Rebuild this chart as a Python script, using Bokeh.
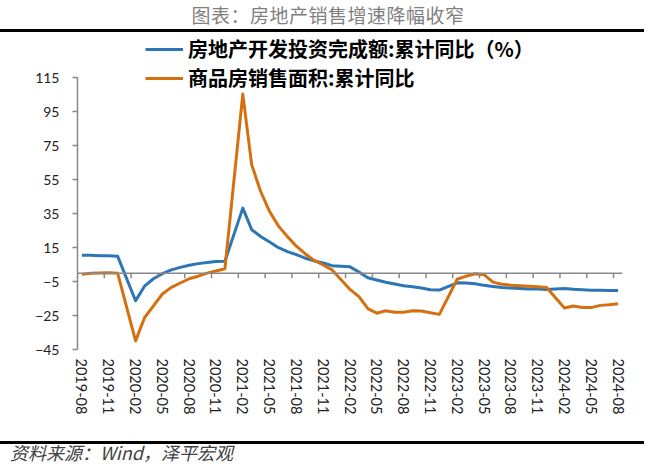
from bokeh.plotting import figure
from bokeh.models import (FixedTicker, Legend, LegendItem, Range1d, Span, Div)
from bokeh.layouts import column
from bokeh.embed import file_html
from bokeh.resources import INLINE

# ---------------- data ----------------
months = [
    "2019-08", "2019-09", "2019-10", "2019-11", "2019-12",
    "2020-02", "2020-03", "2020-04", "2020-05", "2020-06", "2020-07", "2020-08",
    "2020-09", "2020-10", "2020-11", "2020-12",
    "2021-02", "2021-03", "2021-04", "2021-05", "2021-06", "2021-07", "2021-08",
    "2021-09", "2021-10", "2021-11", "2021-12",
    "2022-02", "2022-03", "2022-04", "2022-05", "2022-06", "2022-07", "2022-08",
    "2022-09", "2022-10", "2022-11", "2022-12",
    "2023-02", "2023-03", "2023-04", "2023-05", "2023-06", "2023-07", "2023-08",
    "2023-09", "2023-10", "2023-11", "2023-12",
    "2024-02", "2024-03", "2024-04", "2024-05", "2024-06", "2024-07", "2024-08",
]
invest = [
    10.5, 10.5, 10.3, 10.2, 9.9,
    -16.3, -7.7, -3.3, -0.3, 1.9, 3.4, 4.6, 5.6, 6.3, 6.8, 7.0,
    38.3, 25.6, 21.6, 18.3, 15.0, 12.7, 10.9, 8.8, 7.2, 6.0, 4.4,
    3.7, 0.7, -2.7, -4.0, -5.4, -6.4, -7.4, -8.0, -8.8, -9.8, -10.0,
    -5.7, -5.8, -6.2, -7.2, -7.9, -8.5, -8.8, -9.1, -9.3, -9.4, -9.6,
    -9.0, -9.5, -9.8, -10.1, -10.1, -10.2, -10.2,
]
sales = [
    -0.6, -0.1, 0.1, 0.2, -0.1,
    -39.9, -26.3, -19.3, -12.3, -8.4, -5.8, -3.3, -1.8, 0.0, 1.3, 2.6,
    105.5, 63.8, 48.1, 36.3, 27.7, 21.5, 15.9, 11.3, 7.5, 4.8, 1.9,
    -9.6, -13.8, -20.9, -23.6, -22.2, -23.1, -23.0, -22.2, -22.3, -23.3, -24.3,
    -3.6, -1.8, -0.4, -0.9, -5.3, -6.5, -7.1, -7.5, -7.8, -8.0, -8.5,
    -20.5, -19.4, -20.2, -20.3, -19.0, -18.6, -18.0,
]
tick_labels = [
    "2019-08", "2019-11", "2020-02", "2020-05", "2020-08", "2020-11",
    "2021-02", "2021-05", "2021-08", "2021-11", "2022-02", "2022-05",
    "2022-08", "2022-11", "2023-02", "2023-05", "2023-08", "2023-11",
    "2024-02", "2024-05", "2024-08",
]
y_ticks = [-45, -25, -5, 15, 35, 55, 75, 95, 115]
series_names = ["房地产开发投资完成额:累计同比（%）", "商品房销售面积:累计同比"]
title_text = "图表：房地产销售增速降幅收窄"
source_text = "资料来源：Wind，泽平宏观"

# ---------------- helpers ----------------
def month_index(s):
    y, m = s.split("-")
    return (int(y) - 2019) * 12 + (int(m) - 8)

xs = [month_index(s) for s in months]
label_pos = [month_index(s) for s in tick_labels]
boundary_ticks = [v - 0.5 for v in label_pos]
n_months = month_index(months[-1]) + 1

BLUE = "#2E75B6"
ORANGE = "#D4700F"
AXIS = "#898989"
FONT = "Lato"
CJK = "Noto Sans CJK SC"

W = 644
TOP_H, FIG_H, BOT_H = 32, 398, 30
ML, FW = 77, 545
FRAME_TOP, FRAME_BOT = 1, 317          # inside figure canvas
PX_PER_UNIT = 1.697
y_lo = y_ticks[0]
y_hi = y_lo + (FRAME_BOT - FRAME_TOP) / PX_PER_UNIT

p = figure(width=W, height=FIG_H, output_backend="svg", toolbar_location=None,
           x_range=Range1d(-0.5, n_months - 0.5), y_range=Range1d(y_lo, y_hi),
           min_border_left=ML, min_border_top=FRAME_TOP,
           min_border_right=W - ML - FW, min_border_bottom=FIG_H - FRAME_BOT)
p.outline_line_color = None
p.grid.visible = False

r1 = p.line(xs, invest, line_color=BLUE, line_width=3, line_join="round")
r2 = p.line(xs, sales, line_color=ORANGE, line_width=3, line_join="round")

# horizontal axis line at zero with tick marks at category boundaries
p.add_layout(Span(location=0, dimension="width", line_color=AXIS, line_width=1.5))
tick_len = 5 / PX_PER_UNIT
p.segment(x0=boundary_ticks, y0=[0] * len(boundary_ticks),
          x1=boundary_ticks, y1=[-tick_len] * len(boundary_ticks),
          line_color=AXIS, line_width=1.5)

# category labels at bottom
xa = p.xaxis[0]
xa.ticker = FixedTicker(ticks=label_pos)
xa.major_label_overrides = {v: t for v, t in zip(label_pos, tick_labels)}
xa.axis_line_color = None
xa.major_tick_line_color = None
xa.minor_tick_line_color = None
xa.major_tick_out = 0
xa.major_tick_in = 0
xa.major_label_orientation = "vertical"
xa.major_label_standoff = 9
xa.major_label_text_font = FONT
xa.major_label_text_font_size = "14.5px"
xa.major_label_text_color = "#222222"

ya = p.yaxis[0]
ya.ticker = FixedTicker(ticks=y_ticks)
ya.bounds = (y_ticks[0], y_ticks[-1])
ya.axis_line_color = AXIS
ya.axis_line_width = 1.5
ya.major_tick_line_color = AXIS
ya.major_tick_line_width = 1.5
ya.major_tick_out = 5
ya.major_tick_in = 0
ya.minor_tick_line_color = None
ya.major_label_standoff = 13
ya.major_label_text_font = FONT
ya.major_label_text_font_size = "14px"
ya.major_label_text_color = "#222222"

legend = Legend(items=[LegendItem(label=series_names[0], renderers=[r1]),
                       LegendItem(label=series_names[1], renderers=[r2])],
                location=(68, 257), margin=0, padding=0, spacing=-12,
                glyph_width=38, glyph_height=20, label_height=20, label_standoff=5,
                label_text_font=CJK, label_text_font_size="20px",
                label_text_font_style="bold", label_text_color="#000000",
                label_text_baseline="middle",
                background_fill_alpha=0, border_line_color=None)
p.add_layout(legend, "center")

title_div = Div(
    text=(f'<div style="box-sizing:border-box;width:{W}px;height:{TOP_H}px;'
          'border-bottom:3px solid #000;padding-left:12px;text-align:center;'
          f"font-family:'{CJK}';font-size:19px;letter-spacing:0.5px;color:#7f7f7f;"
          f'line-height:29px;white-space:nowrap;">{title_text}</div>'),
    width=W, height=TOP_H, margin=0)
source_div = Div(
    text=(f'<div style="box-sizing:border-box;width:{W}px;height:{BOT_H}px;'
          'padding-top:11px;"><div style="border-top:3px solid #000;'
          f"padding-left:10px;font-family:'{CJK}';font-size:18px;font-style:italic;"
          f'color:#404040;line-height:16px;white-space:nowrap;">{source_text}</div></div>'),
    width=W, height=BOT_H, margin=0)

layout = column(title_div, p, source_div, spacing=0)
open("out.html", "w").write(file_html(layout, INLINE))
